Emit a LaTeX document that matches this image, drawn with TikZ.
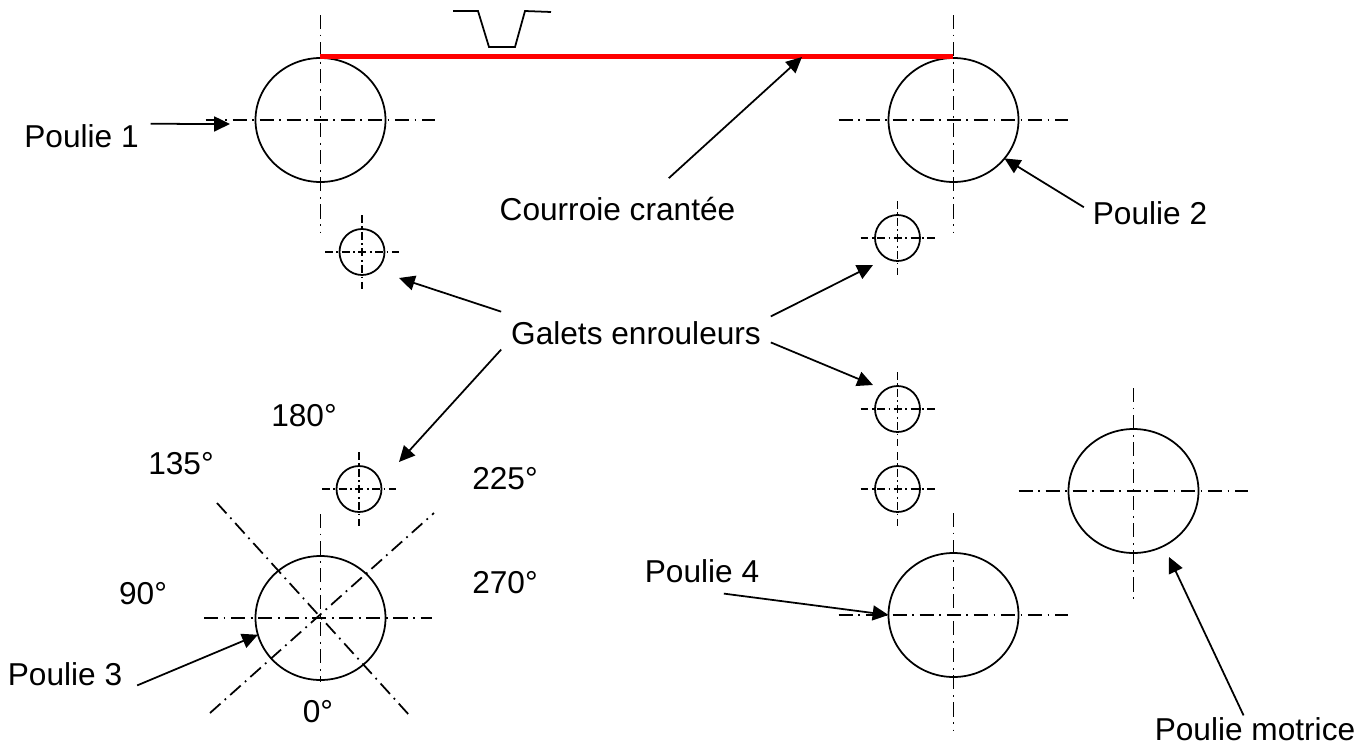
\documentclass[tikz,border=0pt]{standalone}
\usepackage{fontspec}
\setmainfont{Liberation Sans}
\usetikzlibrary{shapes.geometric,arrows.meta}
\tikzset{
  pulley/.style={draw=black,ellipse,line width=1pt,inner sep=0pt,outer sep=0pt,minimum width=2.6cm,minimum height=2.48cm},
  roller/.style={draw=black,ellipse,line width=1pt,inner sep=0pt,outer sep=0pt,minimum width=0.9cm,minimum height=0.92cm},
  axis/.style={black,line width=1pt,dash pattern=on 8pt off 3.2pt on 1pt off 3.2pt},
  rolleraxis/.style={black,line width=1pt,dash pattern=on 4.5pt off 2pt on 1pt off 2pt},
  pointer/.style={black,line width=1pt,-{Triangle[length=9pt,width=8.5pt]}},
  txt/.style={font=\fontsize{18}{21}\selectfont,inner sep=0pt,outer sep=0pt}
}
\begin{document}
\begin{tikzpicture}[scale=0.2]
\useasboundingbox (0,0) rectangle (137.1,-74.4);
% pulleys and their centre lines
\foreach \name/\x/\y/\t/\b in {poulieA/32.05/-12/-1.5/-23.2,poulieB/95.35/-12/-1.5/-23.2,poulieD/95.35/-61.5/-51.3/-73,poulieM/113.35/-49.1/-38.8/-60.3}{
  \node [pulley] (\name) at (\x,\y) {};
  \draw [axis] ({\x-11.5},\y) -- ({\x+11.4},\y);
  \draw [axis] (\x,\t) -- (\x,\b);
}
\node [pulley] (poulieC) at (32.05,-61.8) {};
\draw [axis] (20.4,-61.8) -- (43.2,-61.8);
\draw [axis] (32.05,-51.4) -- (32.05,-68.2);
\draw [axis] (21.7,-50.3) -- (41,-71.6);
\draw [axis] (21,-71.3) -- (43.4,-51.3);
% rollers
\foreach \name/\x/\y in {galetA/36.2/-25.2,galetB/89.75/-23.8,galetC/89.75/-40.9,galetD/89.75/-48.9,galetE/35.9/-48.9}{
  \node [roller] (\name) at (\x,\y) {};
  \draw [rolleraxis] ({\x-3.7},\y) -- ({\x+3.7},\y);
  \draw [rolleraxis] (\x,{\y+3.7}) -- (\x,{\y-3.7});
}
% belt and its profile
\draw [red,line width=2.6pt] (poulieA.center |- 0,-5.65) coordinate (beltA) -- (poulieB.center |- 0,-5.65) coordinate (beltB);
\draw [black,line width=1pt] (45.3,-1.1) -- (47.8,-1.1) -- (48.9,-4.7) -- (51.5,-4.7) -- (52.5,-1.1) -- (55.1,-1.2);
% labels
\node [txt,inner sep=0.24cm] (lblA) at (8.15,-13.6) {Poulie 1};
\node [txt,inner sep=0.38cm] (lblBelt) at (61.75,-20.9) {Courroie crantée};
\node [txt,inner sep=0.18cm] (lblB) at (115,-21.3) {Poulie 2};
\node [txt,inner sep=0.2cm] (lblGalets) at (63.6,-33.3) {Galets enrouleurs};
\node [txt,inner sep=0.22cm] (lblD) at (70.2,-57.1) {Poulie 4};
\node [txt,inner sep=0.3cm] (lblC) at (6.5,-67.4) {Poulie 3};
\node [txt,inner sep=0.04cm] (lblM) at (125.5,-72.9) {Poulie motrice};
\node [txt] (ang180) at (30.4,-41.6) {180°};
\node [txt] (ang135) at (18.1,-46.4) {135°};
\node [txt] (ang225) at (50.5,-47.9) {225°};
\node [txt] (ang90) at (14.3,-59.4) {90°};
\node [txt] (ang270) at (50.5,-58.3) {270°};
\node [txt] (ang0) at (31.8,-71.2) {0°};
% free arrow ends
\coordinate (headA) at (23,-12.4);
\coordinate (headBelt) at (80.2,-5.7);
\coordinate (headGA) at (39.9,-27.8);
\coordinate (headGB) at (87.3,-26.5);
\coordinate (headGC) at (87.3,-38.5);
\coordinate (headGE) at (39.9,-46.2);
\coordinate (headM) at (116.9,-55.7);
% arrows
\draw [pointer] (lblA.10) -- (headA);
\draw [pointer] (lblBelt.31) -- (headBelt);
\draw [pointer] (lblB.175) -- (poulieB.-37);
\draw [pointer] (lblGalets.171) -- (headGA);
\draw [pointer] (lblGalets.187) -- (headGE);
\draw [pointer] (lblGalets.7) -- (headGB);
\draw [pointer] (lblGalets.-4) -- (headGC);
\draw [pointer] (lblD.-46) -- (poulieD.west);
\draw [pointer] (lblC.-9) -- (poulieC.-165);
\draw [pointer] (lblM.130) -- (headM);
\end{tikzpicture}
\end{document}
